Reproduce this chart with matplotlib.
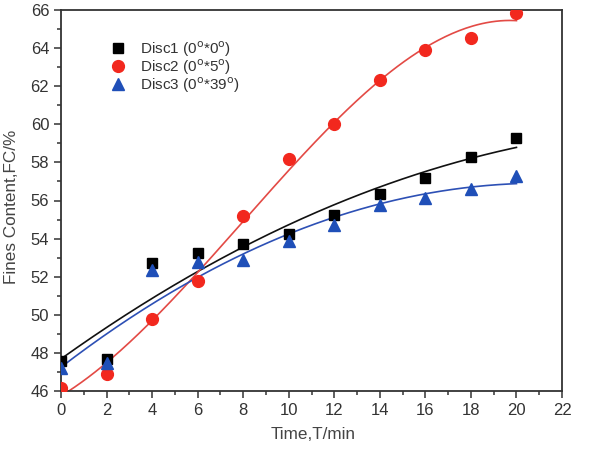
import numpy as np
import matplotlib.pyplot as plt
from matplotlib.ticker import MultipleLocator

plt.rcParams['font.family'] = ['Liberation Sans', 'DejaVu Sans']

# data
time = [0, 2, 4, 6, 8, 10, 12, 14, 16, 18, 20]
disc1 = [47.6, 47.66, 52.7, 53.22, 53.71, 54.24, 55.24, 56.34, 57.16, 58.3, 59.28]
disc2 = [46.14, 46.9, 49.8, 51.77, 55.19, 58.2, 60.0, 62.33, 63.9, 64.55, 65.86]
disc3 = [47.23, 47.46, 52.35, 52.79, 52.88, 53.9, 54.7, 55.77, 56.12, 56.6, 57.3]
labels = [r'Disc1 (0$^\mathrm{o}$*0$^\mathrm{o}$)',
          r'Disc2 (0$^\mathrm{o}$*5$^\mathrm{o}$)',
          r'Disc3 (0$^\mathrm{o}$*39$^\mathrm{o}$)']

fig = plt.figure(figsize=(6.02, 4.51), dpi=100)
ax = fig.add_axes([61 / 602, 1 - 391 / 451, 501 / 602, 381 / 451])

t = np.array(time, dtype=float)
tt = np.linspace(0, 20, 200)

# polynomial fits, like the original software did
f1 = np.polyval(np.polyfit(t, disc1, 2), tt)
f2 = np.polyval(np.polyfit(t, disc2, 3), tt)
f3 = np.polyval(np.polyfit(t, disc3, 2), tt)
ax.plot(tt, f1, color='#111111', lw=1.2)
ax.plot(tt, f2, color='#e34a45', lw=1.2)
ax.plot(tt, f3, color='#2d50b5', lw=1.2)

ax.plot(time, disc1, 's', color='black', ms=7.5, label=labels[0], zorder=3)
ax.plot(time, disc2, 'o', color='#f2281e', ms=8.5, label=labels[1], zorder=3)
ax.plot(time, disc3, '^', color='#1f4fb8', ms=8.5, label=labels[2], zorder=3)

ax.set_xlim(0, 22)
ax.set_ylim(46, 66)
ax.xaxis.set_major_locator(MultipleLocator(2))
ax.xaxis.set_minor_locator(MultipleLocator(1))
ax.yaxis.set_major_locator(MultipleLocator(2))
ax.yaxis.set_minor_locator(MultipleLocator(1))
ax.tick_params(which='major', direction='out', length=5, width=1.1, labelsize=12,
               colors='#333333', labelcolor='#333333')
ax.tick_params(which='minor', direction='out', length=3, width=1.1, colors='#333333')
ax.tick_params(top=False, right=False, which='both')
for s in ax.spines.values():
    s.set_linewidth(1.3)
    s.set_color('#333333')

ax.set_xlabel('Time,T/min', fontsize=12.3, color='#444444')
ax.set_ylabel('Fines Content,FC/%', fontsize=12.3, color='#444444')
ax.xaxis.set_label_coords(0.503, -0.095)
ax.yaxis.set_label_coords(-0.084, 0.483)

ax.legend(loc='upper left', bbox_to_anchor=(0.075, 0.952), frameon=False, fontsize=11,
          handletextpad=0.8, labelspacing=-0.1, borderpad=0.2, handlelength=1.2,
          labelcolor='#333333')

fig.savefig('out.png', dpi=100)
